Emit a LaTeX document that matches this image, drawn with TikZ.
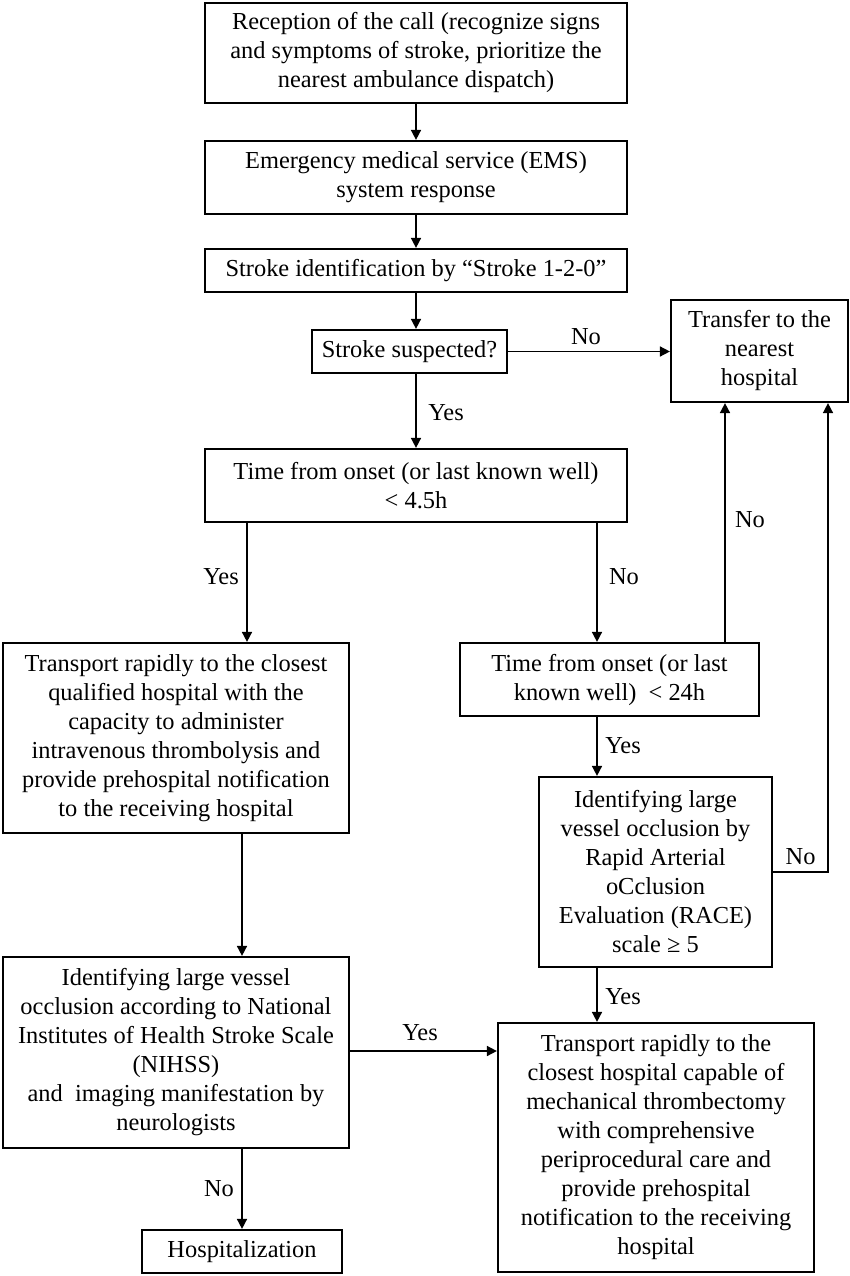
\documentclass[tikz,border=0pt]{standalone}
\usepackage{fontspec}
\setmainfont{Liberation Serif}
\usetikzlibrary{arrows.meta}
\begin{document}
\begin{tikzpicture}[x=1pt,y=-1pt,
  box/.style={draw,line width=2.2pt,align=center,inner sep=0pt,font=\fontsize{24.4}{29}\selectfont},
  arr/.style={line width=1.6pt,-{Triangle[length=10pt,width=10pt]}},
  lbl/.style={inner sep=0pt,font=\fontsize{24.4}{29}\selectfont}]
\useasboundingbox (0,0) rectangle (849,1276);
\node[box,minimum width=422pt,minimum height=100pt] (b1) at (416,53)
  {Reception of the call (recognize signs\\and symptoms of stroke, prioritize the\\nearest ambulance dispatch)};
\node[box,minimum width=422pt,minimum height=73pt] (b2) at (416,177.5)
  {Emergency medical service (EMS)\\system response};
\node[box,minimum width=422pt,minimum height=43pt] (b3) at (416,270.5)
  {Stroke identification by “Stroke 1-2-0”};
\node[box,minimum width=195pt,minimum height=43pt] (b4) at (409.5,351.5)
  {Stroke suspected?};
\node[box,minimum width=177pt,minimum height=102pt] (tr) at (759.5,351)
  {Transfer to the\\nearest\\hospital};
\node[box,minimum width=422pt,minimum height=73pt] (b5) at (416,485.5)
  {Time from onset (or last known well)\\< 4.5h};
\node[box,minimum width=346pt,minimum height=190pt] (b6) at (176,738)
  {Transport rapidly to the closest\\qualified hospital with the\\capacity to administer\\intravenous thrombolysis and\\provide prehospital notification\\to the receiving hospital};
\node[box,minimum width=299pt,minimum height=73pt] (b7) at (609.5,679.5)
  {Time from onset (or last\\known well)~ < 24h};
\node[box,minimum width=233pt,minimum height=190pt] (b8) at (655.5,872)
  {Identifying large\\vessel occlusion by\\Rapid Arterial\\oCclusion\\Evaluation (RACE)\\scale ≥ 5};
\node[box,minimum width=346pt,minimum height=191pt] (b9) at (176,1052.5)
  {Identifying large vessel\\occlusion according to National\\Institutes of Health Stroke Scale\\(NIHSS)\\and~ imaging manifestation by\\neurologists};
\node[box,minimum width=200pt,minimum height=43pt] (b10) at (242,1251.5)
  {Hospitalization};
\node[box,minimum width=316pt,minimum height=249pt] (b11) at (656,1147.5)
  {Transport rapidly to the\\closest hospital capable of\\mechanical thrombectomy\\with comprehensive\\periprocedural care and\\provide prehospital\\notification to the receiving\\hospital};
% connectors
\draw[arr] (b1.south) -- (b2.north);
\draw[arr] (b2.south) -- (b3.north);
\draw[arr] (b3.south) -- (b3.south |- b4.north);
\draw[arr] ([xshift=6.5pt]b4.south) -- node[lbl,xshift=30pt,yshift=-2pt]{Yes} ([xshift=6.5pt]b4.south |- b5.north);
\draw[arr] (b4.east) -- node[lbl,xshift=-3pt,yshift=15pt]{No} (b4.east -| tr.west);
\draw[arr] ([xshift=-169pt]b5.south) -- node[lbl,xshift=-26pt,yshift=5.5pt]{Yes} ([xshift=-169pt]b5.south |- b6.north);
\draw[arr] ([xshift=181pt]b5.south) -- node[lbl,xshift=27pt,yshift=5.5pt]{No} ([xshift=181pt]b5.south |- b7.north);
\draw[arr] ([xshift=115.5pt]b7.north) -- node[lbl,xshift=25pt,yshift=2.5pt]{No} ([xshift=115.5pt]b7.north |- tr.south);
\draw[arr] ([xshift=-12.5pt]b7.south) -- node[lbl,xshift=26pt,yshift=0.5pt]{Yes} ([xshift=-12.5pt]b7.south |- b8.north);
\draw[arr] (b8.east) -| node[lbl,pos=0.25,yshift=15pt]{No} ([xshift=68.5pt]tr.south);
\draw[arr] ([xshift=-58.5pt]b8.south) -- node[lbl,xshift=26pt,yshift=-2pt]{Yes} ([xshift=-58.5pt]b8.south |- b11.north);
\draw[arr] ([xshift=66pt]b6.south) -- ([xshift=66pt]b6.south |- b9.north);
\draw[arr] ([xshift=66pt]b9.south) -- node[lbl,xshift=-23pt]{No} ([xshift=66pt]b9.south |- b10.north);
\draw[arr] ([yshift=1.5pt]b9.east) -- node[lbl,xshift=-3.5pt,yshift=18pt]{Yes} ([yshift=1.5pt]b9.east -| b11.west);
\end{tikzpicture}
\end{document}
